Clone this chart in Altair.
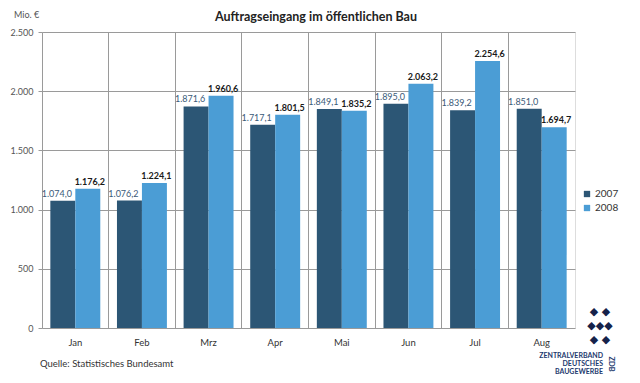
import altair as alt
import pandas as pd

months = ["Jan", "Feb", "Mrz", "Apr", "Mai", "Jun", "Jul", "Aug"]
v2007 = [1074.0, 1076.2, 1871.6, 1717.1, 1849.1, 1895.0, 1839.2, 1851.0]
v2008 = [1176.2, 1224.1, 1960.6, 1801.5, 1835.2, 2063.2, 2254.6, 1694.7]
years = ["2007", "2008"]
colors = ["#2c5675", "#4b9dd5"]
y_ticks = [0, 500, 1000, 1500, 2000, 2500]

FONT = "Lato"


def de(v):
    s = f"{v:,.1f}"
    return s.replace(",", "X").replace(".", ",").replace("X", ".")


rows = []
for m, a, b in zip(months, v2007, v2008):
    rows.append({"Monat": m, "Jahr": "2007", "Wert": a, "Label": de(a)})
    rows.append({"Monat": m, "Jahr": "2008", "Wert": b, "Label": de(b)})
df = pd.DataFrame(rows)

x = alt.X(
    "Monat:N", sort=months,
    scale=alt.Scale(paddingInner=0, paddingOuter=0),
    axis=alt.Axis(title=None, grid=True, bandPosition=0, ticks=False, domain=False,
                  labelAngle=0, labelFont=FONT, labelFontSize=9.5, labelColor="#333333",
                  labelPadding=9, gridColor="#9a9a9a", gridWidth=1),
)
xo = alt.XOffset("Jahr:N", sort=years, scale=alt.Scale(paddingOuter=0.334, paddingInner=0))
y = alt.Y(
    "Wert:Q",
    scale=alt.Scale(domain=[0, 2500], nice=False),
    axis=alt.Axis(title=None, values=y_ticks, domain=False, tickSize=4, tickColor="#9a9a9a",
                  labelPadding=5, labelFont=FONT, labelFontSize=9, labelColor="#555555",
                  labelExpr="replace(format(datum.value, ','), ',', '.')",
                  gridColor="#9a9a9a", gridWidth=1),
)

base = alt.Chart(df)

bars = base.mark_bar().encode(
    x=x, xOffset=xo, y=y,
    color=alt.Color("Jahr:N", sort=years,
                    scale=alt.Scale(domain=years, range=colors),
                    legend=alt.Legend(title=None, orient="none", legendX=540, legendY=157,
                                      symbolType="square", symbolSize=40, symbolStrokeWidth=0,
                                      labelFont=FONT, labelFontSize=10, labelColor="#333333",
                                      rowPadding=4, labelOffset=3)),
)

lab07 = base.transform_filter(alt.datum.Jahr == "2007").mark_text(
    baseline="bottom", dy=-2, dx=-6, font=FONT, fontSize=9, color="#3a5a78"
).encode(x=x, xOffset=xo, y=y, text="Label:N")

lab08 = base.transform_filter(alt.datum.Jahr == "2008").mark_text(
    baseline="bottom", dy=-2, dx=2, font=FONT, fontSize=9, fontWeight="bold", color="#1a1a1a"
).encode(x=x, xOffset=xo, y=y, text="Label:N")


def note(text, px, py, **kw):
    return alt.Chart(pd.DataFrame({"t": [text]})).mark_text(**kw).encode(
        x=alt.value(px), y=alt.value(py), text="t:N")


title = note("Auftragseingang im öffentlichen Bau", 274, -15, font=FONT, fontSize=12.5,
             fontWeight="bold", color="#222222", baseline="middle")
unit = note("Mio. €", -28, -17, font=FONT, fontSize=9, color="#555555", align="left",
            baseline="middle")
source = note("Quelle: Statistisches Bundesamt", -2, 332, font=FONT, fontSize=9.5,
              color="#333333", align="left", baseline="middle")
logo1 = note("ZENTRALVERBAND", 561, 324, font=FONT, fontSize=7, fontWeight="bold",
             color="#1d3a6e", align="right", baseline="middle")
logo2 = note("DEUTSCHES", 561, 332, font=FONT, fontSize=7, fontWeight="bold",
             color="#1d3a6e", align="right", baseline="middle")
logo3 = note("BAUGEWERBE", 561, 340, font=FONT, fontSize=7, fontWeight="bold",
             color="#1d3a6e", align="right", baseline="middle")
logo4 = note("ZDB", 569, 332, font=FONT, fontSize=7.5, fontWeight="bold",
             color="#1d3a6e", angle=90, baseline="middle")
cubes = note("◆ ◆\n◆◆◆\n◆ ◆", 558, 274, font="DejaVu Sans", fontSize=11, color="#16224a",
             baseline="top", lineBreak="\n", lineHeight=14)

chart = alt.layer(bars, lab07, lab08, title, unit, source, logo1, logo2, logo3, logo4,
                  cubes).properties(
    width=533, height=296,
    autosize=alt.AutoSizeParams(type="none"),
    padding={"left": 34, "top": 24, "right": 55, "bottom": 47},
).configure_view(fill="#e6f0fa", stroke="#8c8c8c", strokeWidth=1).configure(background="white")

chart.save("out.html", embed_options={"renderer": "svg", "actions": False})
